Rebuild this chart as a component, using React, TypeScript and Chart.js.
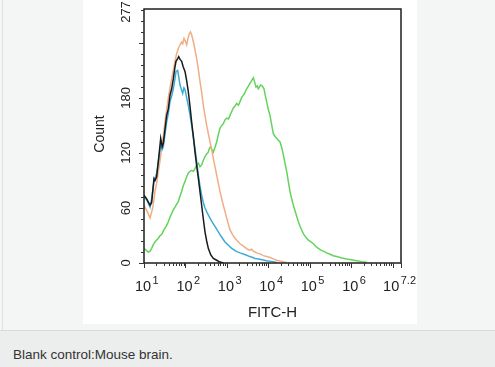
import React, { useEffect, useRef } from "react";
import { Chart, registerables } from "chart.js";

Chart.register(...registerables);

// FITC-H value, count
const blackSeries: [number, number][] = [
  [10, 74], [11.6, 70], [14, 63], [15.3, 66], [17.4, 92], [18.4, 90], [20.2, 94], [23.4, 121], [25.3, 136],
  [27.5, 127], [29.3, 131], [35.2, 161], [38.6, 168], [42.4, 183], [46.5, 190], [51, 201], [56, 214], [59.2, 220],
  [64.9, 223], [68.6, 225], [74, 222], [81.1, 220], [88, 214], [97.5, 209], [107, 199], [117, 187], [128, 172],
  [141, 154], [155, 138], [170, 121], [187, 106], [205, 92], [224, 78], [246, 63], [270, 48], [296, 34], [325, 24],
  [356, 16], [406, 9], [471, 5], [566, 3], [682, 1], [820, 0],
];

const blueSeries: [number, number][] = [
  [10, 72], [11.6, 69], [14, 61], [15.3, 70], [17.4, 89], [20.2, 98], [22.2, 110], [25.3, 129], [27.5, 124],
  [29.3, 127], [35.2, 154], [38.6, 163], [42.4, 176], [46.5, 182], [51, 190], [56, 201], [59.2, 209], [64.9, 210],
  [69, 203], [73.9, 194], [79, 190], [85.7, 185], [92, 191], [97.5, 189], [107, 180], [117, 172], [128, 162],
  [141, 150], [155, 137], [170, 125], [187, 110], [205, 96], [224, 84], [246, 74], [270, 66], [296, 60], [340, 54],
  [391, 49], [450, 44], [516, 40], [600, 35], [682, 31], [780, 27], [900, 23], [1100, 19], [1303, 16],
  [1650, 13], [2070, 11], [2800, 9], [3606, 7], [4800, 5], [6290, 4], [9000, 2.5], [13180, 1.5], [15880, 0.5],
];

const orangeSeries: [number, number][] = [
  [10, 63], [12, 56], [14, 49], [16.2, 60], [18.4, 78], [20.2, 87], [22.2, 100], [24.4, 112], [26.7, 125],
  [29.3, 138], [32.1, 154], [35.2, 167], [38.6, 180], [42.4, 191], [46.5, 201], [51, 210], [56, 220], [61, 228],
  [67.3, 234], [74, 238], [81.1, 241], [86, 239], [92.3, 245], [99, 242], [107, 238], [115, 245], [124, 250],
  [132, 252], [141, 249], [150, 244], [161, 238], [174, 230], [187, 223], [205, 211], [224, 198], [246, 186],
  [270, 172], [296, 161], [325, 150], [356, 141], [391, 132], [430, 123], [471, 114], [516, 105], [566, 96],
  [620, 87], [682, 78], [750, 70], [820, 63], [900, 56], [987, 49], [1090, 42], [1188, 36], [1370, 31],
  [1567, 27], [1800, 24], [2070, 21], [2400, 19], [2734, 17], [3150, 15], [3606, 14], [3950, 15], [4342, 13],
  [5224, 11], [6300, 10], [7568, 8], [9100, 7], [10960, 6], [13200, 4.5], [15880, 3], [19000, 2.2],
  [22970, 1.5], [27670, 0.4],
];

const greenSeries: [number, number][] = [
  [10, 16], [11.2, 14], [12.7, 12], [14, 13], [15.3, 16], [16.8, 20], [18.4, 23], [20.2, 25], [22.2, 27],
  [24.4, 30], [26.7, 31], [29.3, 35], [32.1, 38], [35.2, 41], [38.6, 45], [42.4, 50], [46.5, 54], [51, 58],
  [56, 61], [61, 64], [67.3, 67], [74, 73], [81.1, 78], [88, 84], [97.5, 89], [107, 94], [117, 98],
  [128, 100], [141, 101], [155, 100], [170, 103], [187, 107], [205, 109], [224, 105], [246, 107],
  [270, 112], [296, 116], [325, 119], [356, 121], [380, 125], [406, 127], [435, 124], [471, 121],
  [516, 126], [566, 132], [620, 140], [682, 147], [750, 150], [820, 152], [900, 156], [987, 158],
  [1090, 157], [1188, 161], [1300, 165], [1429, 169], [1567, 171], [1721, 174], [1900, 172], [2070, 176],
  [2250, 180], [2490, 183], [2734, 186], [2997, 190], [3300, 193], [3606, 196], [3950, 199], [4342, 202],
  [4700, 197], [5035, 192], [5400, 193], [5728, 190], [6100, 192], [6531, 194], [7150, 193], [7853, 190],
  [8400, 183], [9103, 176], [9900, 168], [10960, 161], [12000, 151], [13180, 141], [14500, 138],
  [15880, 136], [17400, 134], [19100, 132], [21000, 126], [22970, 118], [25200, 109], [27670, 100],
  [30300, 89], [33270, 78], [36500, 70], [40090, 63], [44000, 57], [48190, 51], [53000, 45], [58040, 40],
  [63700, 36], [69820, 32], [80000, 28], [92230, 25], [106000, 23], [121700, 21], [140000, 18],
  [160700, 16], [185000, 14], [212300, 13], [255000, 11], [307200, 9.5], [370000, 8], [444600, 7],
  [590000, 5.5], [774300, 4.4], [1000000, 3.5], [1352000, 2.5], [1800000, 1.5], [2355000, 0.7],
];

const xTickExponents: string[] = ["1", "2", "3", "4", "5", "6", "7.2"];
const yTickLabels: number[] = [0, 60, 120, 180, 277];
const yMax = 277;
const xTitle = "FITC-H";
const yTitle = "Count";
const caption = "Blank control:Mouse brain.";

const FONT = '"Liberation Sans", Arial, sans-serif';

const axesPlugin = {
  id: "flowAxes",
  afterDraw(chart: any) {
    const { ctx, chartArea } = chart;
    const xs = chart.scales.x;
    const ys = chart.scales.y;
    const { left, right, top, bottom } = chartArea;
    ctx.save();
    // box
    ctx.strokeStyle = "#1e1e1e";
    ctx.lineWidth = 1.5;
    ctx.strokeRect(left, top, right - left, bottom - top);

    // x ticks
    ctx.lineWidth = 1;
    ctx.strokeStyle = "#333";
    const maxExp = parseFloat(xTickExponents[xTickExponents.length - 1]);
    for (let d = 1; d <= Math.floor(maxExp); d++) {
      for (let m = 1; m <= 9; m++) {
        const v = m * Math.pow(10, d);
        if (Math.log10(v) > maxExp + 1e-9) continue;
        const px = Math.round(xs.getPixelForValue(v)) + 0.5;
        const len = m === 1 ? 5 : 3;
        ctx.beginPath();
        ctx.moveTo(px, bottom);
        ctx.lineTo(px, bottom + len);
        ctx.stroke();
      }
    }
    {
      const px = Math.round(xs.getPixelForValue(Math.pow(10, maxExp))) + 0.5;
      ctx.beginPath();
      ctx.moveTo(px, bottom);
      ctx.lineTo(px, bottom + 5);
      ctx.stroke();
    }
    // y ticks
    for (let v = 0; v <= yMax; v += 12) {
      const py = Math.round(ys.getPixelForValue(v)) + 0.5;
      const len = v % 60 === 0 ? 5 : 3;
      ctx.beginPath();
      ctx.moveTo(left, py);
      ctx.lineTo(left - len, py);
      ctx.stroke();
    }

    // x tick labels 10^n
    ctx.fillStyle = "#222";
    ctx.textBaseline = "alphabetic";
    const baseFont = "14.5px " + FONT;
    const supFont = "11px " + FONT;
    xTickExponents.forEach((e) => {
      const v = Math.pow(10, parseFloat(e));
      const px = xs.getPixelForValue(v);
      ctx.font = baseFont;
      const w1 = ctx.measureText("10").width;
      ctx.font = supFont;
      const w2 = ctx.measureText(e).width;
      const total = w1 + 1.5 + w2;
      let x0 = px - w1 / 2 - 1;
      if (x0 + total > chart.width - 1) x0 = chart.width - 1 - total;
      ctx.font = baseFont;
      ctx.textAlign = "left";
      ctx.fillText("10", x0, bottom + 28);
      ctx.font = supFont;
      ctx.fillText(e, x0 + w1 + 1.5, bottom + 21);
    });

    // x title
    ctx.font = "15px " + FONT;
    ctx.textAlign = "center";
    ctx.fillText(xTitle, (left + right) / 2, bottom + 54);

    // y tick labels (rotated)
    ctx.font = "13px " + FONT;
    yTickLabels.forEach((v) => {
      let py = ys.getPixelForValue(v);
      ctx.save();
      ctx.translate(left - 14, Math.max(py, 12));
      ctx.rotate(-Math.PI / 2);
      ctx.textAlign = "center";
      ctx.textBaseline = "alphabetic";
      ctx.fillText(String(v), 0, 0);
      ctx.restore();
    });

    // y title
    ctx.save();
    ctx.font = "14px " + FONT;
    ctx.translate(left - 40, (top + bottom) / 2 - 2);
    ctx.rotate(-Math.PI / 2);
    ctx.textAlign = "center";
    ctx.fillText(yTitle, 0, 0);
    ctx.restore();

    ctx.restore();
  },
};

export default function App() {
  const ref = useRef<HTMLCanvasElement | null>(null);

  useEffect(() => {
    const canvas = ref.current;
    if (!canvas) return;
    const toPts = (s: [number, number][]) => s.map(([x, y]) => ({ x, y }));
    const chart = new Chart(canvas, {
      type: "line",
      data: {
        datasets: [
          { label: "black", data: toPts(blackSeries), borderColor: "#1a1a1a", order: 0 },
          { label: "blue", data: toPts(blueSeries), borderColor: "#3eaad8", order: 1 },
          { label: "orange", data: toPts(orangeSeries), borderColor: "#f0ae84", order: 2 },
          { label: "green", data: toPts(greenSeries), borderColor: "#62d45c", order: 3 },
        ].map((d) => ({
          ...d,
          borderWidth: 1.5,
          pointRadius: 0,
          tension: 0,
          fill: false,
        })),
      },
      options: {
        animation: false,
        responsive: false,
        devicePixelRatio: 1,
        layout: { padding: { left: 61, right: 16, top: 9, bottom: 61 } },
        plugins: { legend: { display: false }, tooltip: { enabled: false }, title: { display: false } },
        scales: {
          x: { type: "logarithmic", min: 10, max: Math.pow(10, 7.2), display: false },
          y: { type: "linear", min: 0, max: yMax, display: false },
        },
      },
      plugins: [axesPlugin],
    } as any);
    return () => chart.destroy();
  }, []);

  return (
    <div
      style={{
        position: "fixed",
        left: 0,
        top: 0,
        width: 495,
        height: 367,
        background: "#f4f6f5",
        overflow: "hidden",
      }}
    >
      <div style={{ position: "absolute", left: 2, top: 0, width: 1, height: 330, background: "#dfe1e0" }} />
      <div style={{ position: "absolute", left: 83, top: 0, width: 334, height: 324, background: "#ffffff" }}>
        <canvas ref={ref} width={334} height={324} style={{ display: "block", width: 334, height: 324 }} />
      </div>
      <div style={{ position: "absolute", left: 0, top: 330, width: 495, height: 1, background: "#d8dad9" }} />
      <div style={{ position: "absolute", left: 0, top: 331, width: 495, height: 36, background: "#eceeed" }}>
        <span
          style={{
            position: "absolute",
            left: 13,
            top: 16,
            fontFamily: FONT,
            fontSize: 13.5,
            lineHeight: "15px",
            color: "#333",
            whiteSpace: "nowrap",
          }}
        >
          {caption}
        </span>
      </div>
    </div>
  );
}
